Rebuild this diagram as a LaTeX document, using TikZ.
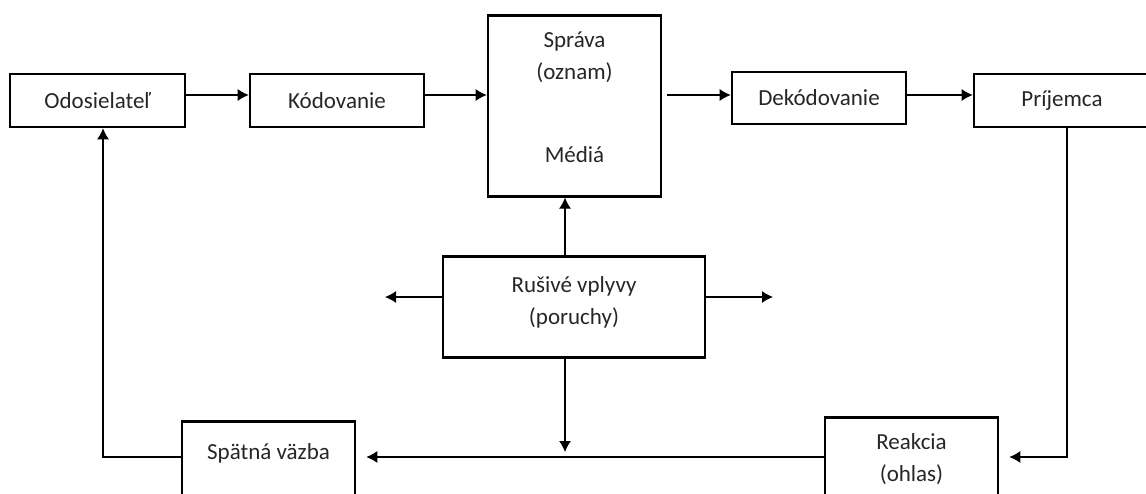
\documentclass[tikz,border=0pt]{standalone}
\usepackage{fontspec}
\setmainfont{Carlito}
\usetikzlibrary{arrows.meta}

\tikzset{
    blok/.style={draw, line width=2.6pt, text=black!85, align=center,
        font=\fontsize{23}{32}\selectfont, inner sep=0pt},
    sipka/.style={-{Latex[length=11pt,width=12pt]}, line width=1.2pt}
}

\begin{document}
\begin{tikzpicture}[x=1pt, y=-1pt]
    \useasboundingbox (0,0) rectangle (1146,493);
    \clip (0,0) rectangle (1146,493);

    % horny rad
    \node [blok, minimum width=175pt, minimum height=53pt] (odos) at (97.5,100.5) {Odosielateľ};
    \node [blok, minimum width=174pt, minimum height=53pt] (kod) at (337,100.5) {Kódovanie};
    \node [blok, minimum width=173pt, anchor=north, text height=147pt, text depth=34pt]
        (sprava) at (574.5,14) {Správa\\(oznam)\\[51pt]Médiá};
    \node [blok, minimum width=174pt, minimum height=52pt] (dek) at (819,98) {Dekódovanie};
    \node [blok, minimum width=176pt, minimum height=53pt] (prij) at (1062,100.5) {Príjemca};

    % stred a spodok
    \node [blok, minimum width=262pt, anchor=north, text height=68pt, text depth=33pt]
        (rus) at (574,255) {Rušivé vplyvy\\(poruchy)};
    \node [blok, minimum width=173pt, anchor=north, text height=64pt, text depth=40pt]
        (reak) at (911.5,416) {Reakcia\\(ohlas)};
    \node [blok, minimum width=173pt, anchor=north, text height=38pt, text depth=70pt]
        (spat) at (268.5,420) {Spätná väzba};

    \coordinate (r1) at (0,95);
    \coordinate (r2) at (0,297);
    \coordinate (stred) at (565,0);
    \coordinate (roh) at (1067,457);
    \coordinate (roh2) at (103,457);
    \coordinate (vlavo) at (385,297);
    \coordinate (vpravo) at (773,297);

    \draw [sipka] (odos.east |- r1) -- (kod.west |- r1);
    \draw [sipka] (kod.east |- r1) -- (sprava.west |- r1);
    \draw [sipka, shorten <=5pt] (sprava.east |- r1) -- (dek.west |- r1);
    \draw [sipka] (dek.east |- r1) -- (prij.west |- r1);

    \draw [sipka, shorten >=10pt] (prij.south -| roh) -- (roh) -- (reak.east |- roh);
    \draw [sipka, shorten >=10pt] (reak.west |- roh) -- (spat.east |- roh);
    \draw [sipka] (spat.west |- roh2) -- (roh2) -- (odos.south -| roh2);

    \draw [sipka] (rus.north -| stred) -- (sprava.south -| stred);
    \draw [sipka, shorten >=5pt] (rus.south -| stred) -- (stred |- roh);
    \draw [sipka] (rus.west |- r2) -- (vlavo);
    \draw [sipka] (rus.east |- r2) -- (vpravo);
\end{tikzpicture}
\end{document}
